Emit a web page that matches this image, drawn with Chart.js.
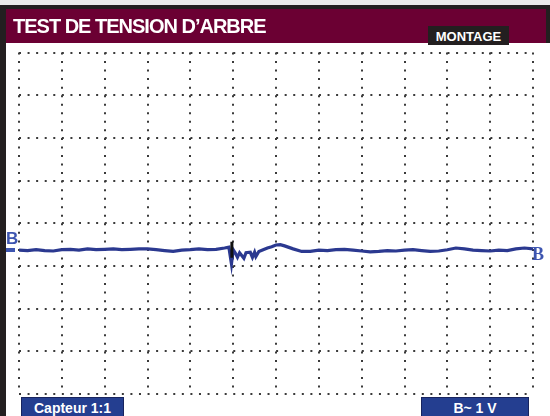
<!DOCTYPE html>
<html>
<head>
<meta charset="utf-8">
<script src="https://cdn.jsdelivr.net/npm/chart.js@4.4.1/dist/chart.umd.min.js"></script>
<style>
  body { margin: 0; width: 550px; height: 416px; overflow: hidden; position: relative; background: #ebebeb; font-family: "Liberation Sans", Arial, sans-serif; }
  .abs { position: absolute; }
  #topband { left: 0; top: 5px; width: 550px; height: 38px; background: #231f20; }
  #leftband { left: 0; top: 5px; width: 6px; height: 411px; background: #231f20; }
  #panel { left: 6px; top: 43px; width: 544px; height: 373px; background: #fff; }
  #header { left: 6px; top: 9px; width: 540px; height: 34px; background: #6b0033; }
  #title { left: 13px; top: 15.5px; color: #fff; font-weight: bold; font-size: 20px; line-height: 20px; letter-spacing: -1px; white-space: nowrap; }
  #mode { left: 428px; top: 26px; width: 81px; height: 19px; background: #231f20; color: #fff; font-weight: bold; font-size: 13px; line-height: 21px; text-align: center; }
  .box { top: 397px; height: 22px; background: #243e90; border: 1px solid #18245e; box-sizing: border-box; color: #fff; font-weight: bold; font-size: 14px; line-height: 21px; text-align: center; }
  #probe { left: 21px; width: 103px; }
  #range { left: 421px; width: 108px; }
  #bl { left: 6px; top: 230px; color: #3d55b0; font-weight: bold; font-size: 17px; line-height: 17px; }
  #blbar { left: 6px; top: 248px; width: 9px; height: 4px; background: #3d55b0; }
  #br { left: 532px; top: 245px; color: #3d55b0; font-weight: bold; font-size: 18px; line-height: 18px; font-family: "Liberation Serif", serif; }
  canvas { position: absolute; left: 0; top: 0; }
</style>
</head>
<body>
<div id="topband" class="abs"></div>
<div id="leftband" class="abs"></div>
<div id="panel" class="abs"></div>
<div id="header" class="abs"></div>
<canvas id="scope" width="550" height="416"></canvas>
<div id="title" class="abs">TEST DE TENSION D’ARBRE</div>
<div id="mode" class="abs">MONTAGE</div>
<div id="probe" class="abs box">Capteur 1:1</div>
<div id="range" class="abs box">B~ 1 V</div>
<div id="bl" class="abs">B</div>
<div id="blbar" class="abs"></div>
<div id="br" class="abs">B</div>
<script>
// time axis in divisions (0..12), voltage axis in divisions (-4..4)
const timeDiv = [0, 0.2, 0.4, 0.6, 0.8, 1.0, 1.2, 1.4, 1.6, 1.8, 2.0, 2.2, 2.4, 2.6, 2.8, 3.0, 3.2, 3.4, 3.6, 3.8,
  4.0, 4.2, 4.4, 4.6, 4.8, 4.9, 4.96, 5.0, 5.05, 5.1, 5.15, 5.25, 5.3, 5.4, 5.45, 5.5, 5.53, 5.6, 5.7, 5.8, 5.9,
  6.0, 6.1, 6.2, 6.4, 6.6, 6.8, 7.0, 7.2, 7.4, 7.6, 7.8, 8.0, 8.2, 8.4, 8.6, 8.8, 9.0, 9.2, 9.4, 9.6, 9.8,
  10.0, 10.2, 10.4, 10.6, 10.8, 11.0, 11.2, 11.4, 11.6, 11.8, 12.0];
const traceB = [-0.63, -0.64, -0.62, -0.64, -0.65, -0.62, -0.61, -0.63, -0.60, -0.62, -0.61, -0.60, -0.62, -0.61, -0.60, -0.60, -0.62, -0.64, -0.66, -0.63,
  -0.62, -0.60, -0.62, -0.61, -0.58, -0.56, -0.95, -0.62, -0.70, -0.80, -0.69, -0.82, -0.69, -0.68, -0.80, -0.68, -0.78, -0.66, -0.62, -0.58, -0.55,
  -0.51, -0.50, -0.53, -0.60, -0.66, -0.66, -0.63, -0.64, -0.62, -0.61, -0.63, -0.65, -0.67, -0.66, -0.64, -0.65, -0.63, -0.62, -0.64, -0.66, -0.65,
  -0.62, -0.58, -0.60, -0.63, -0.64, -0.65, -0.63, -0.64, -0.60, -0.58, -0.60];
const triggerPoint = [{ x: 4.97, y: -0.62 }];
const xTicks = [0, 12];
const yTicks = [-4, 4];

const tracePoints = timeDiv.map((t, i) => ({ x: t, y: traceB[i] }));

new Chart(document.getElementById('scope').getContext('2d'), {
  type: 'scatter',
  data: {
    datasets: [
      {
        label: 'B',
        data: tracePoints,
        showLine: true,
        borderColor: '#2b3990',
        borderWidth: 3.2,
        pointRadius: 0,
        tension: 0,
        order: 2
      },
      {
        label: 'trigger',
        data: triggerPoint,
        pointStyle: 'line',
        rotation: 90,
        radius: 8,
        borderColor: '#111',
        borderWidth: 3,
        order: 1
      }
    ]
  },
  options: {
    responsive: false,
    animation: false,
    devicePixelRatio: 1,
    layout: { padding: { left: 19, right: 17, top: 52.5, bottom: 22 } },
    plugins: { legend: { display: false }, tooltip: { enabled: false } },
    scales: {
      x: {
        type: 'linear',
        min: xTicks[0],
        max: xTicks[1],
        ticks: { display: false, stepSize: 1 },
        grid: { color: '#3a3a3a', lineWidth: 2, drawTicks: false },
        border: { display: false, dash: [2, 6.54] },
        afterFit: s => { s.height = 0; }
      },
      y: {
        type: 'linear',
        min: yTicks[0],
        max: yTicks[1],
        ticks: { display: false, stepSize: 1 },
        grid: { color: '#3a3a3a', lineWidth: 2, drawTicks: false },
        border: { display: false, dash: [2, 6.57] },
        afterFit: s => { s.width = 0; }
      }
    }
  }
});
</script>
</body>
</html>
